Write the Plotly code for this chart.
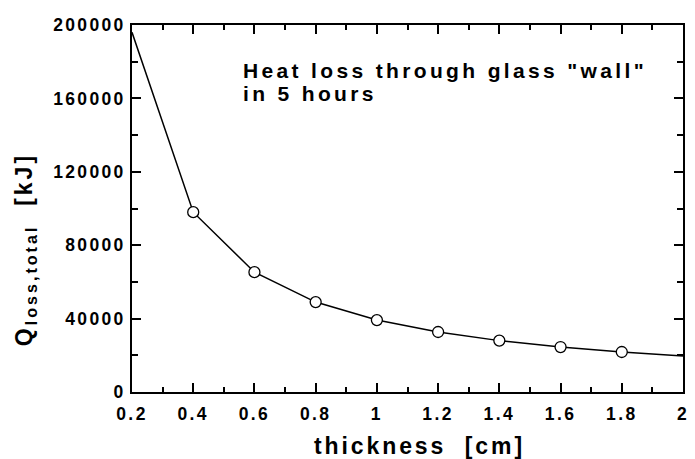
import plotly.graph_objects as go

thickness = [0.2, 0.4, 0.6, 0.8, 1.0, 1.2, 1.4, 1.6, 1.8, 2.0]
q_loss = [196000, 98000, 65300, 49000, 39200, 32700, 28000, 24500, 21800, 19600]

x_ticks = [0.2, 0.4, 0.6, 0.8, 1, 1.2, 1.4, 1.6, 1.8, 2]
x_tick_labels = ["0.2", "0.4", "0.6", "0.8", "1", "1.2", "1.4", "1.6", "1.8", "2"]
y_ticks = [0, 40000, 80000, 120000, 160000, 200000]
y_tick_labels = ["0", "40000", "80000", "120000", "160000", "200000"]

x_title = "thickness&nbsp;&nbsp;[cm]"
y_title = "Q<sub>loss,total</sub>&nbsp;&nbsp;[kJ]"
note_lines = ["Heat loss through glass \"wall\"", "in 5 hours"]

FONT = "Liberation Sans"


def spaced(text, px):
    return '<span style="letter-spacing:%spx">%s</span>' % (px, text)


# page is offset by the 8px body margin -> figure is 8px smaller
W, H = 687, 451
L, R, T, B = 124, 6, 17, 67

fig = go.Figure()
fig.add_trace(go.Scatter(
    x=thickness, y=q_loss, mode="lines",
    line=dict(color="black", width=1.5), showlegend=False, hoverinfo="skip"))
fig.add_trace(go.Scatter(
    x=thickness[1:-1], y=q_loss[1:-1], mode="markers",
    marker=dict(symbol="circle", size=11, color="white",
                line=dict(color="black", width=1.3)),
    showlegend=False))

axis_common = dict(
    showgrid=False, zeroline=False, showline=True, linecolor="black",
    linewidth=2, mirror="ticks", ticks="inside", tickcolor="black",
    tickwidth=1.5, ticklen=9,
    tickfont=dict(family=FONT, size=17.5, color="black", weight="bold"),
)

fig.update_xaxes(
    range=[0.2, 2.0], tickvals=x_ticks,
    ticktext=[spaced(t, 2.4) for t in x_tick_labels],
    ticklabelstandoff=5,
    minor=dict(ticks="inside", dtick=0.1, tick0=0.2, ticklen=5,
               tickwidth=1.5, tickcolor="black"),
    **axis_common)
fig.update_yaxes(
    range=[0, 200000], tickvals=y_ticks,
    ticktext=[spaced(t, 2.3) for t in y_tick_labels],
    ticklabelstandoff=1,
    minor=dict(ticks="inside", dtick=20000, tick0=0, ticklen=6,
               tickwidth=1.5, tickcolor="black"),
    **axis_common)

PW = W - L - R
PH = H - T - B


def px_x(X):
    return (X - (L + 8)) / PW


def px_y(Y):
    return ((T + 8 + PH) - Y) / PH


# y-axis title
fig.add_annotation(
    xref="paper", yref="paper", x=px_x(24), y=px_y(250),
    xanchor="center", yanchor="middle", textangle=-90, showarrow=False,
    text=spaced(y_title, 3),
    font=dict(family=FONT, size=23, color="black", weight="bold"))
# x-axis title
fig.add_annotation(
    xref="paper", yref="paper", x=px_x(423), y=px_y(446),
    xanchor="center", yanchor="middle", showarrow=False,
    text=spaced(x_title, 2.9),
    font=dict(family=FONT, size=23, color="black", weight="bold"))
# note
for line, yc in zip(note_lines, [70, 93.5]):
    fig.add_annotation(
        xref="paper", yref="paper", x=px_x(242), y=px_y(yc),
        xanchor="left", yanchor="middle", align="left", showarrow=False,
        text=spaced(line, 3.35),
        font=dict(family=FONT, size=21, color="black", weight="bold"))

fig.update_layout(
    width=W, height=H,
    margin=dict(l=L, r=R, t=T, b=B),
    plot_bgcolor="white", paper_bgcolor="white",
)

fig.write_html("out.html")
